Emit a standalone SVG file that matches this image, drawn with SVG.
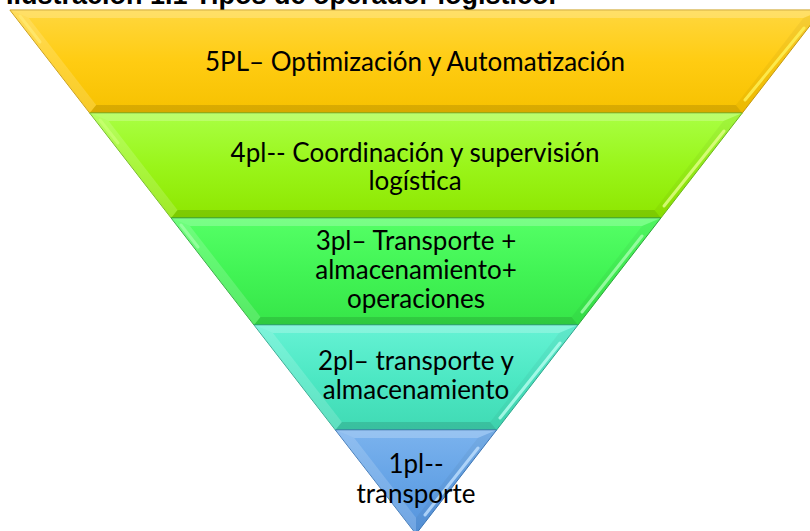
<svg xmlns="http://www.w3.org/2000/svg" width="810" height="531" viewBox="0 0 810 531">
<defs>
<linearGradient id="g5" x1="0" y1="0" x2="0" y2="1"><stop offset="0" stop-color="#FFD73E"/><stop offset="0.5" stop-color="#FFCC12"/><stop offset="1" stop-color="#F6C100"/></linearGradient>
<linearGradient id="g4" x1="0" y1="0" x2="0" y2="1"><stop offset="0" stop-color="#A9FF44"/><stop offset="0.5" stop-color="#9AF51A"/><stop offset="1" stop-color="#8EE600"/></linearGradient>
<linearGradient id="g3" x1="0" y1="0" x2="0" y2="1"><stop offset="0" stop-color="#55FF66"/><stop offset="0.5" stop-color="#42F455"/><stop offset="1" stop-color="#36E548"/></linearGradient>
<linearGradient id="g2" x1="0" y1="0" x2="0" y2="1"><stop offset="0" stop-color="#66F2D4"/><stop offset="0.5" stop-color="#4DE8C4"/><stop offset="1" stop-color="#40DAB4"/></linearGradient>
<linearGradient id="g1" x1="0" y1="0" x2="0" y2="1"><stop offset="0" stop-color="#7BB3EE"/><stop offset="0.5" stop-color="#65A3E6"/><stop offset="1" stop-color="#5593DC"/></linearGradient>
</defs>
<style>
.title{font-family:"Liberation Sans",Arial,sans-serif;font-weight:bold;font-size:27px;fill:#000}
.lbl{font-family:Lato,"Open Sans",sans-serif;font-size:26px;fill:#000;text-anchor:middle}
.topf{fill:#fff;fill-opacity:0.22}
.leftf{fill:#fff;fill-opacity:0.16}
.rightf{fill:#000;fill-opacity:0.04}
.botf{fill:#000;fill-opacity:0.12}
.hl{stroke-width:3;stroke-linecap:round;fill:none;stroke-opacity:0.8}
</style>
<rect width="810" height="531" fill="#fff"/>
<text class="title" x="6" y="4">Ilustración 1.1 Tipos de operador logístico.</text>

<g id="band-5pl">
<polygon points="9.9,10 822.1,10 742.3,113 89.7,113" fill="url(#g5)" stroke="#C99B10" stroke-width="1"/>
<polygon class="topf" points="9.9,10 822.1,10 803.3,18 28.7,18"/>
<polygon class="leftf" points="9.9,10 28.7,18 96.2,105 89.7,113"/>
<polygon class="rightf" points="822.1,10 742.3,113 735.8,105 803.3,18"/>
<polygon class="botf" points="89.7,113 96.2,105 735.8,105 742.3,113"/>
<line class="hl" x1="804" y1="28" x2="745" y2="100" stroke="#FFF35A"/>
<line class="hl" x1="20" y1="16" x2="40" y2="42" stroke="#FFE870"/>
<text class="lbl" x="415" y="71">5PL– Optimización y Automatización</text>
</g>

<g id="band-4pl">
<polygon points="89.7,113 742.3,113 660.9,218 171.1,218" fill="url(#g4)" stroke="#6FB81E" stroke-width="1"/>
<polygon class="topf" points="89.7,113 742.3,113 723.4,121 108.6,121"/>
<polygon class="leftf" points="89.7,113 108.6,121 177.5,210 171.1,218"/>
<polygon class="rightf" points="742.3,113 660.9,218 654.5,210 723.4,121"/>
<polygon class="botf" points="171.1,218 177.5,210 654.5,210 660.9,218"/>
<line class="hl" x1="724" y1="131" x2="664" y2="206" stroke="#E4FF88"/>
<line class="hl" x1="100" y1="120" x2="118" y2="143" stroke="#C8FF70"/>
<text class="lbl" x="415" y="162">4pl-- Coordinación y supervisión</text>
<text class="lbl" x="415" y="190">logística</text>
</g>

<g id="band-3pl">
<polygon points="171.1,218 660.9,218 578,325 254,325" fill="url(#g3)" stroke="#2EA83A" stroke-width="1"/>
<polygon class="topf" points="171.1,218 660.9,218 642.05,226 189.95,226"/>
<polygon class="leftf" points="171.1,218 189.95,226 260.5,317 254,325"/>
<polygon class="rightf" points="660.9,218 578,325 571.5,317 642.05,226"/>
<polygon class="botf" points="254,325 260.5,317 571.5,317 578,325"/>
<line class="hl" x1="642" y1="236" x2="582" y2="312" stroke="#A8FFB0"/>
<line class="hl" x1="181" y1="225" x2="198" y2="247" stroke="#9CFFA4"/>
<text class="lbl" x="416" y="250">3pl– Transporte +</text>
<text class="lbl" x="416" y="279">almacenamiento+</text>
<text class="lbl" x="416" y="308">operaciones</text>
</g>

<g id="band-2pl">
<polygon points="254,325 578,325 496.6,430 335.4,430" fill="url(#g2)" stroke="#2FA88E" stroke-width="1"/>
<polygon class="topf" points="254,325 578,325 559.1,333 272.9,333"/>
<polygon class="leftf" points="254,325 272.9,333 341.85,422 335.4,430"/>
<polygon class="rightf" points="578,325 496.6,430 490.15,422 559.1,333"/>
<polygon class="botf" points="335.4,430 341.85,422 490.15,422 496.6,430"/>
<line class="hl" x1="560" y1="343" x2="500" y2="418" stroke="#B6FFF0"/>
<text class="lbl" x="416" y="370">2pl– transporte y</text>
<text class="lbl" x="416" y="399">almacenamiento</text>
</g>

<g id="band-1pl">
<polygon points="335.4,430 496.6,430 416,534" fill="url(#g1)" stroke="#3E78B8" stroke-width="1"/>
<polygon class="topf" points="335.4,430 496.6,430 477.75,438 354.25,438"/>
<polygon class="leftf" points="335.4,430 354.25,438 416,517.7 416,534"/>
<polygon class="rightf" points="496.6,430 416,534 416,517.7 477.75,438"/>
<line class="hl" x1="478" y1="448" x2="425" y2="515" stroke="#BFE0FF"/>
<text class="lbl" x="416" y="473">1pl--</text>
<text class="lbl" x="416" y="503">transporte</text>
</g>
</svg>
